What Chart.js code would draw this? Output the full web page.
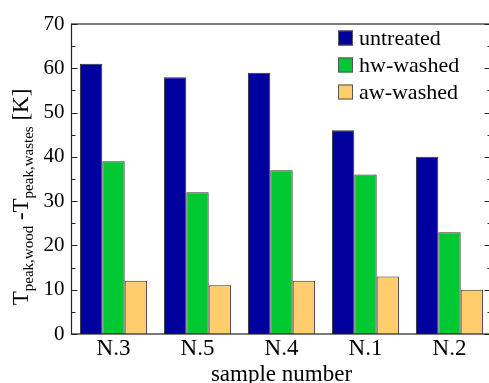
<!DOCTYPE html>
<html>
<head>
<meta charset="utf-8">
<script src="https://cdn.jsdelivr.net/npm/chart.js@4/dist/chart.umd.min.js"></script>
<style>
    html, body { margin: 0; padding: 0; background: #fff; overflow: hidden; }
    #wrap { width: 496px; height: 383px; }
</style>
</head>
<body>
<div id="wrap"><canvas id="peakChart" width="496" height="383"></canvas></div>
<script>
var categories = ['N.3', 'N.5', 'N.4', 'N.1', 'N.2'];
var seriesNames = ['untreated', 'hw-washed', 'aw-washed'];
var untreated = [61, 58, 59, 46, 40];
var hwWashed = [39, 32, 37, 36, 23];
var awWashed = [12, 11, 12, 13, 10];
var yTicks = [0, 10, 20, 30, 40, 50, 60, 70];

(function () {
    var FONT = '"Liberation Serif", "Times New Roman", serif';
    var colors = ['#00009c', '#00c832', '#ffcd6b'];

    // frame, inward ticks, legend and axis titles
    var decorations = {
        id: 'decorations',
        afterDraw: function (chart) {
            var ctx = chart.ctx;
            var area = chart.chartArea;
            var y = chart.scales.y;
            var i, py;

            ctx.save();
            ctx.strokeStyle = '#222';
            ctx.lineWidth = 1.2;
            ctx.strokeRect(area.left, area.top, area.right - area.left, area.bottom - area.top);

            ctx.lineWidth = 1;
            for (i = 0; i < yTicks.length; i++) {
                py = Math.round(y.getPixelForValue(yTicks[i])) + 0.5;
                ctx.beginPath();
                ctx.moveTo(area.left, py); ctx.lineTo(area.left + 6, py);
                ctx.moveTo(area.right, py); ctx.lineTo(area.right - 7, py);
                ctx.stroke();
                if (i < yTicks.length - 1) {
                    py = Math.round(y.getPixelForValue(yTicks[i] + 5)) + 0.5;
                    ctx.beginPath();
                    ctx.moveTo(area.left, py); ctx.lineTo(area.left + 4, py);
                    ctx.moveTo(area.right, py); ctx.lineTo(area.right - 4, py);
                    ctx.stroke();
                }
            }

            // legend
            ctx.font = '22px ' + FONT;
            ctx.textBaseline = 'middle';
            ctx.textAlign = 'left';
            for (i = 0; i < seriesNames.length; i++) {
                var cy = 38 + i * 27;
                ctx.fillStyle = colors[i];
                ctx.fillRect(338, cy - 7.5, 15, 15);
                ctx.strokeStyle = '#555';
                ctx.strokeRect(338.5, cy - 7, 14, 14);
                ctx.fillStyle = '#000';
                ctx.fillText(seriesNames[i], 359, cy + 1);
            }

            // x title
            ctx.font = '23px ' + FONT;
            ctx.textAlign = 'center';
            ctx.textBaseline = 'alphabetic';
            ctx.fillText('sample number', (area.left + area.right) / 2, 381);

            // y title with subscripts
            var parts = [
                { t: 'T', size: 23, dy: 0 },
                { t: 'peak,wood', size: 15, dy: 5 },
                { t: ' -', size: 23, dy: 0 },
                { t: 'T', size: 23, dy: 0 },
                { t: 'peak,wastes', size: 15, dy: 5 },
                { t: ' [K]', size: 23, dy: 0 }
            ];
            var total = 0;
            for (i = 0; i < parts.length; i++) {
                ctx.font = parts[i].size + 'px ' + FONT;
                parts[i].w = ctx.measureText(parts[i].t).width;
                total += parts[i].w;
            }
            ctx.translate(28, 197);
            ctx.rotate(-Math.PI / 2);
            ctx.textAlign = 'left';
            var x = -total / 2;
            for (i = 0; i < parts.length; i++) {
                ctx.font = parts[i].size + 'px ' + FONT;
                ctx.fillText(parts[i].t, x, parts[i].dy);
                x += parts[i].w;
            }
            ctx.restore();
        }
    };

    function makeDataset(label, data, color) {
        return {
            label: label,
            data: data,
            backgroundColor: color,
            borderColor: '#333',
            borderWidth: 1,
            barPercentage: 1.0,
            categoryPercentage: 0.8
        };
    }

    new Chart(document.getElementById('peakChart'), {
        type: 'bar',
        data: {
            labels: categories,
            datasets: [
                makeDataset(seriesNames[0], untreated, colors[0]),
                makeDataset(seriesNames[1], hwWashed, colors[1]),
                makeDataset(seriesNames[2], awWashed, colors[2])
            ]
        },
        options: {
            responsive: false,
            animation: false,
            layout: { padding: { top: 24, right: 4.5, left: 0, bottom: 0 } },
            plugins: { legend: { display: false }, tooltip: { enabled: false } },
            scales: {
                x: {
                    grid: { display: false, drawTicks: false },
                    border: { display: false },
                    ticks: { color: '#000', font: { family: FONT, size: 23 }, padding: 1 },
                    afterFit: function (scale) { scale.height = 49; }
                },
                y: {
                    min: 0,
                    max: 70,
                    afterBuildTicks: function (scale) {
                        scale.ticks = yTicks.map(function (v) { return { value: v }; });
                    },
                    grid: { display: false, drawTicks: false },
                    border: { display: false },
                    ticks: { color: '#000', font: { family: FONT, size: 21 }, padding: 7 },
                    afterFit: function (scale) { scale.width = 71.5; }
                }
            }
        },
        plugins: [decorations]
    });
})();
</script>
</body>
</html>
